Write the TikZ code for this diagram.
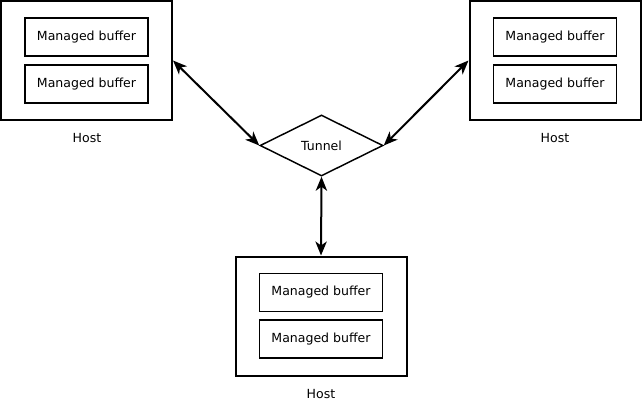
\documentclass[tikz,border=0pt]{standalone}
\usepackage{fontspec}
\setmainfont{DejaVu Sans}
\usetikzlibrary{shapes.geometric,arrows.meta}
\begin{document}
\begin{tikzpicture}[x=0.75pt,y=-0.75pt,
  host/.style={draw,line width=1.5pt,minimum width=128.25pt,minimum height=89.25pt,inner sep=0pt},
  buf/.style={draw,line width=1.1pt,minimum width=92.25pt,minimum height=28.5pt,inner sep=0pt,font=\fontsize{9.4pt}{11pt}\selectfont},
  lbl/.style={font=\fontsize{9.4pt}{11pt}\selectfont,inner sep=0pt},
  link/.style={line width=1.5pt,{Stealth[length=10.5pt,width=8.5pt,inset=3pt]}-{Stealth[length=10.5pt,width=8.5pt,inset=3pt]}}]
\useasboundingbox (0,0) rectangle (642,401);
% hosts
\node[host] (lh) at (86.5,60.5) {};
\node[host] (rh) at (555,60.5) {};
\node[host] (bh) at (321,316) {};
% buffers
\node[buf] (lb1) at (86.5,37) {Managed buffer};
\node[buf] (lb2) at (86.5,84) {Managed buffer};
\node[buf] (rb1) at (555,37) {Managed buffer};
\node[buf] (rb2) at (555,84) {Managed buffer};
\node[buf] (bb1) at (321,292.5) {Managed buffer};
\node[buf] (bb2) at (321,339) {Managed buffer};
% labels
\node[lbl] (lhl) at (87,138.5) {Host};
\node[lbl] (rhl) at (555,138.5) {Host};
\node[lbl] (bhl) at (321,394.5) {Host};
% tunnel
\node[diamond,draw,line width=1.1pt,minimum width=92.25pt,minimum height=45.75pt,inner sep=0pt,font=\fontsize{9.4pt}{11pt}\selectfont] (tun) at (321.5,145.5) {Tunnel};
% links
\draw[link] (lh.east) -- (tun.west);
\draw[link] (rh.west) -- (tun.east);
\draw[link] (tun.south) -- (bh.north);
\end{tikzpicture}
\end{document}
